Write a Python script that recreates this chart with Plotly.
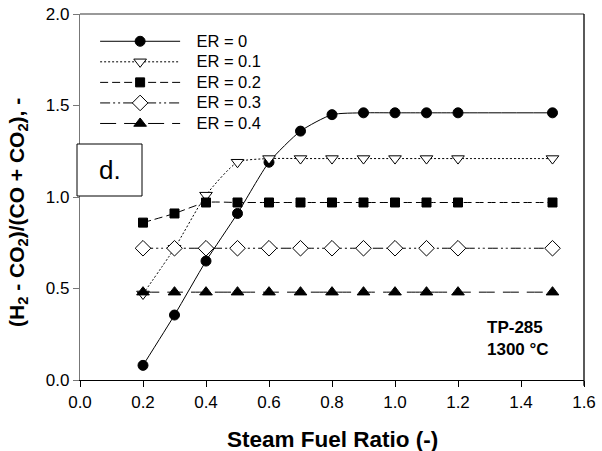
import plotly.graph_objects as go

# Steam-to-fuel ratio sweep
sfr = [0.2, 0.3, 0.4, 0.5, 0.6, 0.7, 0.8, 0.9, 1.0, 1.1, 1.2, 1.5]

# (H2 - CO2)/(CO + CO2) for each equivalence ratio
er_00 = [0.08, 0.355, 0.65, 0.91, 1.19, 1.36, 1.45, 1.46, 1.46, 1.46, 1.46, 1.46]
er_01 = [0.47, 0.72, 1.01, 1.19, 1.21, 1.21, 1.21, 1.21, 1.21, 1.21, 1.21, 1.21]
er_02 = [0.86, 0.91, 0.97, 0.97, 0.97, 0.97, 0.97, 0.97, 0.97, 0.97, 0.97, 0.97]
er_03 = [0.72, 0.72, 0.72, 0.72, 0.72, 0.72, 0.72, 0.72, 0.72, 0.72, 0.72, 0.72]
er_04 = [0.48, 0.48, 0.48, 0.48, 0.48, 0.48, 0.48, 0.48, 0.48, 0.48, 0.48, 0.48]

x_ticks = [0.0, 0.2, 0.4, 0.6, 0.8, 1.0, 1.2, 1.4, 1.6]
y_ticks = [0.0, 0.5, 1.0, 1.5, 2.0]

FONT = "Liberation Sans, Arial, sans-serif"
NBSP = "\u00a0"

# plot-area geometry in pixels (used to place paper-referenced decorations)
PX_LEFT, PX_RIGHT, PX_TOP, PX_BOTTOM = 80, 584, 14, 380
PW, PH = PX_RIGHT - PX_LEFT, PX_BOTTOM - PX_TOP


def px_x(px):
    return (px - PX_LEFT) / PW


def px_y(py):
    return (PX_BOTTOM - py) / PH


series = [
    ("ER = 0", er_00, "solid", "circle", "black", 10),
    ("ER = 0.1", er_01, "2px,2px", "triangle-down", "white", 11),
    ("ER = 0.2", er_02, "8px,4px", "square", "black", 9),
    ("ER = 0.3", er_03, "10px,3px,2px,3px,2px,3px", "diamond", "white", 12),
    ("ER = 0.4", er_04, "16px,8px", "triangle-up", "black", 11),
]

fig = go.Figure()
for name, ys, dash, sym, fill, size in series:
    fig.add_trace(go.Scatter(
        x=sfr, y=ys,
        name=NBSP * 3 + f'<span style="font-size:16.5px">{name}</span>',
        mode="lines+markers",
        line=dict(color="black", width=1, dash=dash, shape="spline", smoothing=0.6),
        marker=dict(symbol=sym, size=size, color=fill,
                    line=dict(color="black", width=1)),
    ))

fig.update_layout(
    width=602, height=451,
    margin=dict(l=PX_LEFT, r=602 - PX_RIGHT, t=PX_TOP, b=451 - PX_BOTTOM,
                autoexpand=False),
    paper_bgcolor="white", plot_bgcolor="white",
    font=dict(family=FONT, size=17, color="black"),
    showlegend=True,
    legend=dict(x=0.03, y=px_y(26), xanchor="left", yanchor="top",
                bgcolor="rgba(0,0,0,0)", font=dict(size=13.5),
                itemwidth=80, tracegroupgap=0),
    xaxis=dict(range=[0, 1.6], tickvals=x_ticks,
               ticktext=[f"{v:.1f}" for v in x_ticks],
               showgrid=False, zeroline=False, showline=True, automargin=False,
               linecolor="black", linewidth=1.3,
               ticks="outside", ticklen=6, tickcolor="black",
               tickfont=dict(size=17)),
    yaxis=dict(range=[0, 2.0], tickvals=y_ticks,
               ticktext=[f"{v:.1f}" for v in y_ticks],
               showgrid=False, zeroline=False, showline=True, automargin=False,
               linecolor="#777777", linewidth=1.3,
               ticks="outside", ticklen=6, tickcolor="#777777",
               tickfont=dict(size=17)),
    shapes=[
        dict(type="line", xref="paper", yref="paper", x0=0, x1=1, y0=1, y1=1,
             line=dict(color="#777777", width=1.3)),
        dict(type="line", xref="paper", yref="paper", x0=1, x1=1, y0=0, y1=1,
             line=dict(color="black", width=1.3)),
        dict(type="line", xref="paper", yref="paper", x0=1, x1=1, y0=0, y1=-0.016,
             line=dict(color="black", width=1.3)),
        dict(type="rect", xref="paper", yref="paper",
             x0=px_x(77), x1=px_x(142), y0=px_y(196), y1=px_y(144),
             line=dict(color="black", width=1), fillcolor="white"),
    ],
    annotations=[
        dict(text="d.", xref="paper", yref="paper",
             x=px_x(110), y=px_y(170), xanchor="center", yanchor="middle",
             showarrow=False, font=dict(size=26, family=FONT)),
        dict(text="<b>TP-285<br>1300 °C</b>", xref="paper", yref="paper",
             x=px_x(485), y=px_y(338), xanchor="left",
             yanchor="middle", align="left", showarrow=False,
             font=dict(size=17, family=FONT)),
        dict(text="<b>Steam Fuel Ratio (-)</b>", xref="paper", yref="paper",
             x=px_x(332), y=px_y(425), xanchor="center", yanchor="top",
             showarrow=False, font=dict(size=22.5, family=FONT)),
        dict(text="<b>(H<sub>2</sub> - CO<sub>2</sub>)/(CO + CO<sub>2</sub>), -</b>",
             xref="paper", yref="paper", textangle=-90,
             x=px_x(18), y=px_y(213), xanchor="center",
             yanchor="middle", showarrow=False,
             font=dict(size=21, family=FONT)),
    ],
)

fig.write_html("out.html")
